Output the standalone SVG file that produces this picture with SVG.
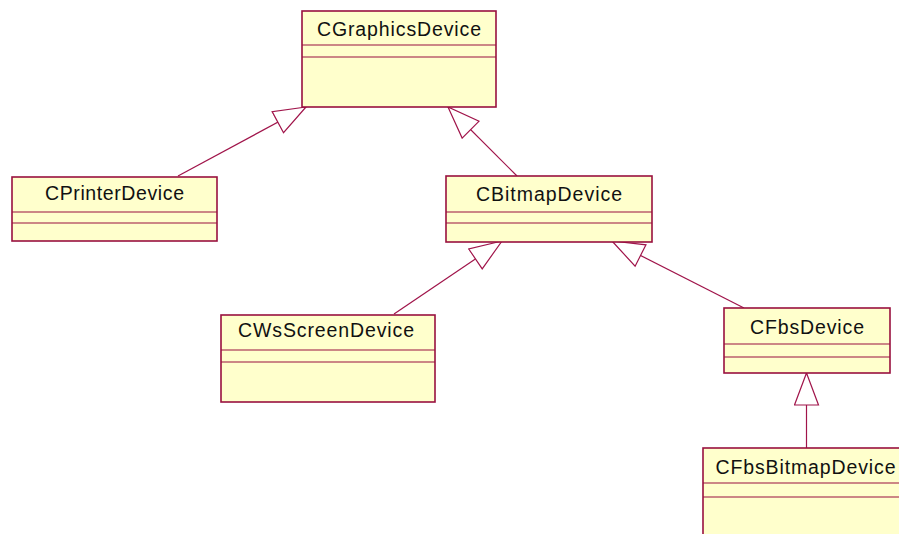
<svg xmlns="http://www.w3.org/2000/svg" width="899" height="534" viewBox="0 0 899 534">
<style>
.box{fill:#FFFFCC;stroke:#99113F;stroke-width:1.6}
.sep{stroke:#99113F;stroke-width:1.2}
.lbl{font-family:"Liberation Sans",Arial,sans-serif;font-size:19.5px;fill:#111;text-anchor:middle}
.conn{stroke:#A0144A;stroke-width:1.2;fill:none}
</style>
<defs>
<marker id="gen" markerUnits="userSpaceOnUse" viewBox="0 0 34 26" markerWidth="34" markerHeight="26" refX="33" refY="13" orient="auto">
<path d="M33,13 L1,1 L1,25 Z" fill="#fff" stroke="#A0144A" stroke-width="1.2"/>
</marker>
</defs>
<rect width="899" height="534" fill="#fff"/>
<g id="connectors">
<line class="conn" x1="178" y1="176" x2="306" y2="107" marker-end="url(#gen)"/>
<line class="conn" x1="517" y1="176" x2="448" y2="107" marker-end="url(#gen)"/>
<line class="conn" x1="394" y1="314" x2="502" y2="241" marker-end="url(#gen)"/>
<line class="conn" x1="744" y1="308" x2="612" y2="241" marker-end="url(#gen)"/>
<line class="conn" x1="806.5" y1="448" x2="806.5" y2="373" marker-end="url(#gen)"/>
</g>
<g id="CGraphicsDevice">
<rect class="box" x="302" y="11" width="194" height="96"/>
<line class="sep" x1="302" y1="45" x2="496" y2="45"/>
<line class="sep" x1="302" y1="57" x2="496" y2="57"/>
<text class="lbl" x="399" y="36" textLength="164" lengthAdjust="spacing">CGraphicsDevice</text>
</g>
<g id="CPrinterDevice">
<rect class="box" x="12" y="177" width="205" height="64"/>
<line class="sep" x1="12" y1="212" x2="217" y2="212"/>
<line class="sep" x1="12" y1="223" x2="217" y2="223"/>
<text class="lbl" x="114.5" y="200" textLength="139" lengthAdjust="spacing">CPrinterDevice</text>
</g>
<g id="CBitmapDevice">
<rect class="box" x="446" y="176" width="206" height="66"/>
<line class="sep" x1="446" y1="212" x2="652" y2="212"/>
<line class="sep" x1="446" y1="223" x2="652" y2="223"/>
<text class="lbl" x="549" y="201" textLength="146" lengthAdjust="spacing">CBitmapDevice</text>
</g>
<g id="CWsScreenDevice">
<rect class="box" x="221" y="315" width="214" height="87"/>
<line class="sep" x1="221" y1="350" x2="435" y2="350"/>
<line class="sep" x1="221" y1="362" x2="435" y2="362"/>
<text class="lbl" x="326" y="337" textLength="176" lengthAdjust="spacing">CWsScreenDevice</text>
</g>
<g id="CFbsDevice">
<rect class="box" x="724" y="308" width="166" height="65"/>
<line class="sep" x1="724" y1="344" x2="890" y2="344"/>
<line class="sep" x1="724" y1="357" x2="890" y2="357"/>
<text class="lbl" x="807" y="334" textLength="114" lengthAdjust="spacing">CFbsDevice</text>
</g>
<g id="CFbsBitmapDevice">
<rect class="box" x="703" y="448" width="205" height="100"/>
<line class="sep" x1="703" y1="483" x2="908" y2="483"/>
<line class="sep" x1="703" y1="497" x2="908" y2="497"/>
<text class="lbl" x="805.5" y="474" textLength="180" lengthAdjust="spacing">CFbsBitmapDevice</text>
</g>
</svg>
